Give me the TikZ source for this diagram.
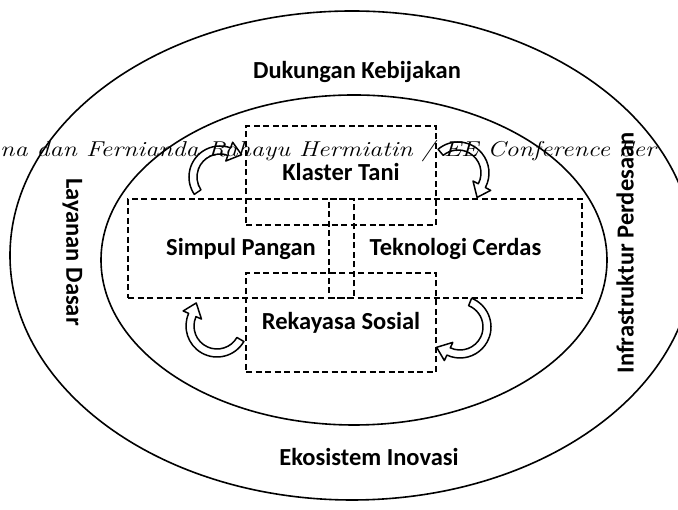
\documentclass[tikz,border=0pt]{standalone}
\usepackage{fontspec}
\setsansfont{Carlito}
\usepackage{tikz}
\usetikzlibrary{calc, positioning}

\tikzset{
  ring/.style={draw=black, line width=1.6pt},
  zonelabel/.style={font=\sffamily\bfseries\fontsize{24.5}{28}\selectfont, inner sep=0pt},
  pillar/.style={draw=black, line width=1.1pt, dash pattern=on 6pt off 3.5pt,
    font=\sffamily\bfseries\fontsize{24.5}{28}\selectfont, minimum height=99pt, inner sep=0pt},
  cue/.style={draw=black, fill=white, line width=1.5pt, line join=round},
}

% curved block arrow: centre, tail angle, head angle, tip angle, tip radius
\newcommand{\cyclecue}[5]{%
  \draw[cue] ($(#1)+(#2:31pt)$) arc[start angle=#2, end angle=#3, radius=31pt]
    -- ($(#1)+(#3:37pt)$) -- ($(#1)+(#4:#5)$) -- ($(#1)+(#3:17pt)$)
    -- ($(#1)+(#3:23pt)$) arc[start angle=#3, end angle=#2, radius=23pt] -- cycle;}

\begin{document}
\begin{tikzpicture}[x=1pt, y=1pt]
  \useasboundingbox (0,0) rectangle (678,510);

  % the two rings
  \draw[ring] (352,254.5) ellipse[x radius=342pt, y radius=244.5pt];
  \draw[ring] (354,250) ellipse[x radius=253pt, y radius=165pt];

  % dashed pillars
  \node[pillar, minimum width=190pt, text depth=7pt] (klaster) at (341,334.5) {Klaster Tani};
  \node[pillar, minimum width=226pt] (simpul) at (241,261.5) {Simpul Pangan};
  \node[pillar, minimum width=253pt] (teknologi) at (455.5,261.5) {Teknologi Cerdas};
  \node[pillar, minimum width=190pt] (rekayasa) at (341,187.5) {Rekayasa Sosial};

  % cycle arrows
  \coordinate (cueTL) at (220,333);
  \coordinate (cueTR) at (458,337);
  \coordinate (cueBL) at (217,184);
  \coordinate (cueBR) at (460,183);
  \cyclecue{cueTL}{214}{70}{46}{31pt}
  \cyclecue{cueTR}{130}{-28}{-52}{31pt}
  \cyclecue{cueBL}{330}{156}{132}{31pt}
  \cyclecue{cueBR}{68}{-115}{-139}{31pt}

  % outer ring labels
  \node[zonelabel] (kebijakan) at (357,438.5) {Dukungan Kebijakan};
  \node[zonelabel] (inovasi) at (369,53) {Ekosistem Inovasi};
  \node[zonelabel, rotate=-90] (dasar) at (72.5,258) {Layanan Dasar};
  \node[zonelabel, rotate=90] (perdesaan) at (625,257) {Infrastruktur Perdesaan};

  % running head of the page
  \node[anchor=base west, inner sep=0pt] (runhead) at (0,353)
    {\scalebox{1.21}[1]{\fontsize{21.5}{26}\selectfont\itshape na dan Fernianda Rahayu Hermiatin / EE Conference Ser}};
\end{tikzpicture}
\end{document}
